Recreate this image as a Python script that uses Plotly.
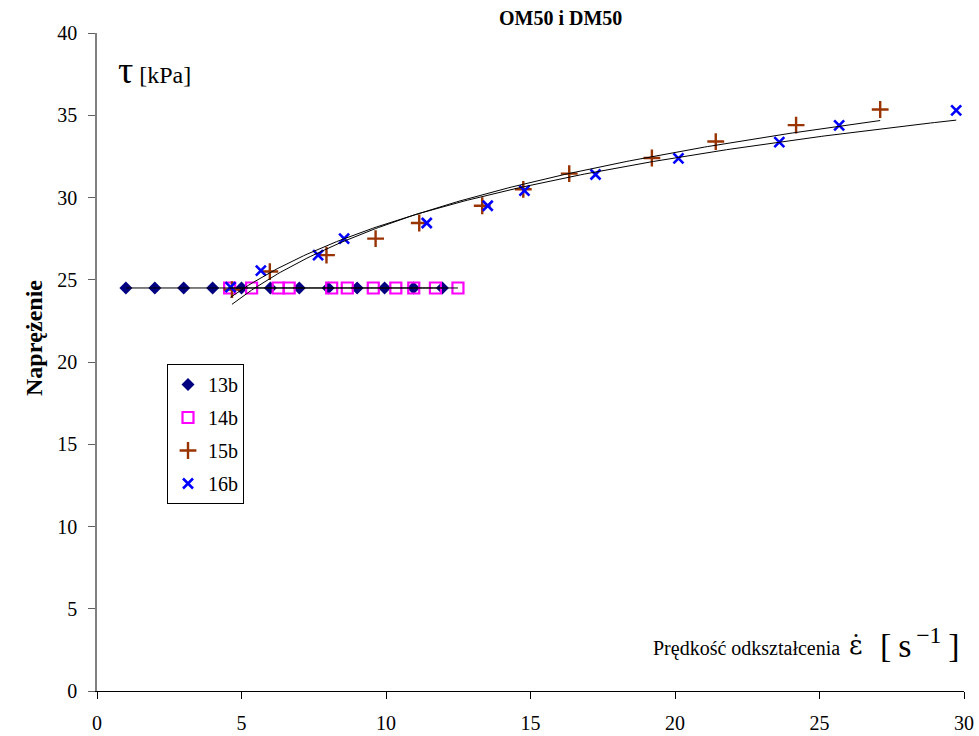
import numpy as np
import plotly.graph_objects as go

# ---- data ----
x_13b = [1, 2, 3, 4, 5, 6, 7, 8, 9, 9.95, 10.95, 11.95]
y_13b = [24.5] * 12

x_14b = [4.59, 5.35, 6.27, 6.65, 8.12, 8.66, 9.56, 10.34, 10.96, 11.71, 12.49]
y_14b = [24.5] * 11

x_15b = [4.67, 5.98, 7.94, 9.64, 11.15, 13.33, 14.75, 16.34, 19.2, 21.41, 24.19, 27.1]
y_15b = [24.4, 25.5, 26.5, 27.5, 28.45, 29.5, 30.5, 31.45, 32.4, 33.4, 34.4, 35.35]

x_16b = [4.62, 5.67, 7.65, 8.55, 11.41, 13.52, 14.79, 17.25, 20.12, 23.61, 25.68, 29.73]
y_16b = [24.55, 25.55, 26.5, 27.5, 28.45, 29.5, 30.42, 31.4, 32.38, 33.37, 34.38, 35.3]

series_names = ["13b", "14b", "15b", "16b"]
x_ticks = [0, 5, 10, 15, 20, 25, 30]
y_ticks = [0, 5, 10, 15, 20, 25, 30, 35, 40]

FONT = "Liberation Serif, Times New Roman, serif"

styles = {
    "13b": dict(symbol="diamond", size=10, color="#000080", line=dict(width=0)),
    "14b": dict(symbol="square-open", size=11, color="#FF00FF", line=dict(width=2.2, color="#FF00FF")),
    "15b": dict(symbol="cross-thin-open", size=12, color="#993300", line=dict(width=2.4, color="#993300")),
    "16b": dict(symbol="x-thin-open", size=10, color="#0000FF", line=dict(width=2.6, color="#0000FF")),
}

data = {"13b": (x_13b, y_13b), "14b": (x_14b, y_14b),
        "15b": (x_15b, y_15b), "16b": (x_16b, y_16b)}

fig = go.Figure()

for name in series_names:
    xs, ys = data[name]
    fig.add_trace(go.Scatter(x=xs, y=ys, mode="markers", name=name,
                             legendgroup=name, marker=styles[name]))

# logarithmic trend lines (fitted to each series)
for name in series_names:
    xs, ys = np.array(data[name][0]), np.array(data[name][1])
    a, b = np.polyfit(np.log(xs), ys, 1)
    xt = np.linspace(xs.min(), xs.max(), 200)
    yt = a * np.log(xt) + b
    fig.add_trace(go.Scatter(x=xt, y=yt, mode="lines", showlegend=False,
                             line=dict(color="black", width=1), hoverinfo="skip"))

fig.update_layout(
    width=979, height=736,
    margin=dict(l=97, r=15, t=33, b=45, autoexpand=False),
    paper_bgcolor="white", plot_bgcolor="white",
    font=dict(family=FONT, size=20, color="black"),
    showlegend=True,
    legend=dict(x=(167 - 97) / 867, y=(691 - 364) / 658, xanchor="left", yanchor="top",
                bordercolor="black", borderwidth=1, bgcolor="white",
                font=dict(family=FONT, size=20, color="black"), tracegroupgap=4,
                traceorder="grouped", itemwidth=30),
    xaxis=dict(range=[0, 30], tickvals=x_ticks, showgrid=False, zeroline=False,
               showline=True, linecolor="black", linewidth=1, automargin=False,
               ticks="outside", ticklen=7, tickcolor="black", ticklabelstandoff=7,
               tickfont=dict(family=FONT, size=20, color="black")),
    yaxis=dict(range=[0, 40], tickvals=y_ticks, showgrid=False, zeroline=False,
               showline=True, linecolor="#808080", linewidth=1.5, automargin=False,
               ticks="outside", ticklen=7, tickcolor="#606060", ticklabelstandoff=7,
               tickfont=dict(family=FONT, size=20, color="black")),
)

# (text, center x px, center y px, font size, angle, family)
annotations = [
    ("<b>OM50 i DM50</b>", 560, 18, 20, 0, FONT),
    ("<b>Naprężenie</b>", 34, 338, 24, -90, FONT),
    ("<span style='font-size:38px'>τ</span> [kPa]", 154, 70, 24, 0, FONT),
    ("Prędkość odkształcenia", 746, 648, 20, 0, FONT),
    ("ε̇", 855, 645, 26, 0, "DejaVu Serif"),
    ("[&#8201;s<sup>&#8201;−1</sup>&#8201;]", 920, 643, 34, 0, FONT),
]
for text, px, py, size, ang, fam in annotations:
    fig.add_annotation(text=text, x=(px - 97) / 867, y=(691 - py) / 658,
                       xref="paper", yref="paper", showarrow=False,
                       xanchor="center", yanchor="middle", textangle=ang,
                       font=dict(family=fam, color="black", size=size))

fig.write_html("out.html")
